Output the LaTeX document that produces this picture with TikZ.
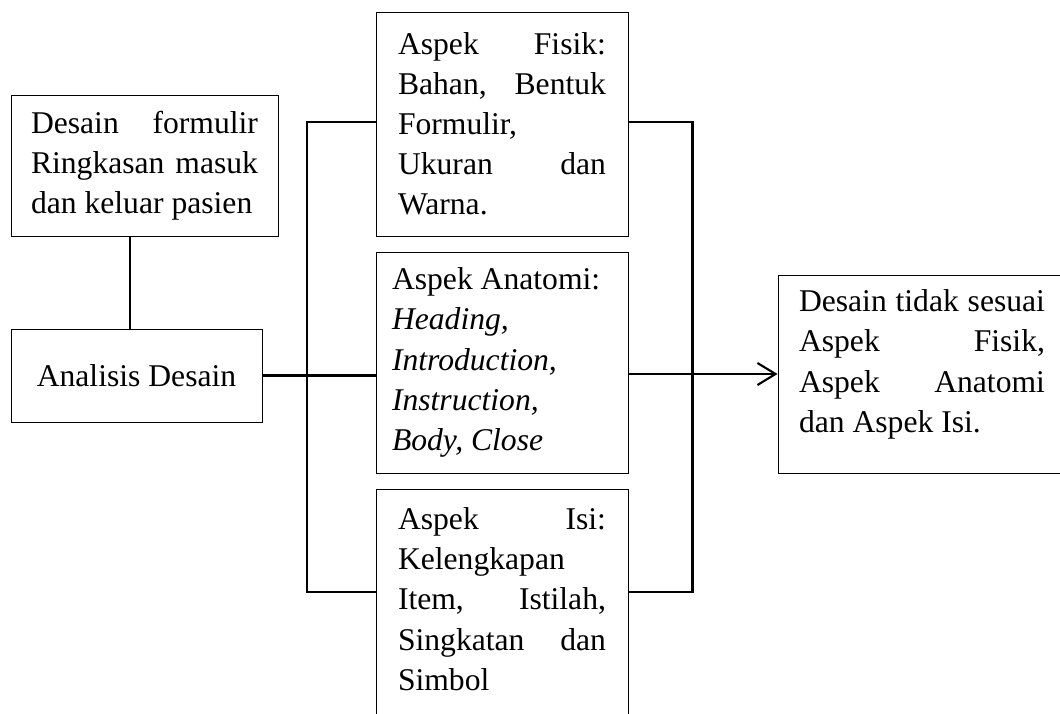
\documentclass[tikz,border=0pt]{standalone}
\usepackage{fontspec}
\setmainfont{Liberation Serif}
\usetikzlibrary{positioning}
\usetikzlibrary{arrows.meta}

\begin{document}
\begin{tikzpicture}[
    kotak/.style={draw, rectangle, line width=0.7pt, inner sep=0pt, align=justify,
      font={\fontsize{22.5}{28.5}\selectfont\spaceskip=0.25em plus 5em minus 0.05em}},
    garis/.style={line width=1.5pt}]
            \useasboundingbox (0,0) rectangle (26.5,17.825);
            \clip (0,0) rectangle (26.5,17.825);
            % Kotak
            \node[kotak, minimum width=6.675cm, minimum height=3.525cm, text width=5.675cm] (desain) at (3.6125,13.6875) {Desain formulir\linebreak Ringkasan masuk\linebreak dan keluar pasien};
            \node[kotak, minimum width=6.275cm, minimum height=2.325cm, align=center] (analisis) at (3.4125,8.4375) {Analisis Desain};
            \node[kotak, minimum width=6.3cm, minimum height=5.6cm, text width=5.2cm] (fisik) at (12.55,14.725) {Aspek Fisik:\linebreak Bahan, Bentuk\linebreak Formulir,\newline Ukuran dan\linebreak Warna.};
            \node[kotak, minimum width=6.3cm, minimum height=5.525cm, text width=5.5cm] (anatomi) at (12.55,8.7625) {Aspek Anatomi:\newline \textit{Heading,}\newline \textit{Introduction,}\newline \textit{Instruction,}\newline \textit{Body, Close}};
            \node[kotak, minimum width=6.3cm, minimum height=6.5cm, text width=5.2cm] (isi) at (12.55,2.35) {Aspek Isi:\linebreak Kelengkapan\newline Item, Istilah,\linebreak Singkatan dan\linebreak Simbol\rule[-1cm]{0pt}{1cm}};
            \node[kotak, minimum width=7.2cm, minimum height=4.95cm, text width=6.15cm] (hasil) at (23.05,8.475) {Desain tidak sesuai\linebreak Aspek Fisik,\linebreak Aspek Anatomi\linebreak dan Aspek Isi.\rule[-0.65cm]{0pt}{0.65cm}};

            % Titik sudut
            \coordinate (kiri1) at (7.675,14.775);
            \coordinate (kiri2) at (7.675,3.025);
            \coordinate (kanan1) at (17.3125,14.775);
            \coordinate (kanan2) at (17.3125,3.025);

            % Garis
            \draw[garis] (3.25,0 |- desain.south) -- (3.25,0 |- analisis.north);
            \draw[garis] (analisis.east) -- (analisis.east -| anatomi.west);
            \draw[garis] (kiri1 -| fisik.west) -- (kiri1) -- (kiri2) -- (kiri2 -| isi.west);
            \draw[garis] (kanan1 -| fisik.east) -- (kanan1) -- (kanan2) -- (kanan2 -| isi.east);
            \draw[garis, -{Straight Barb[length=0.45cm, width=0.55cm]}] (anatomi.east |- hasil.west) -- (hasil.west);
          \end{tikzpicture}
\end{document}
